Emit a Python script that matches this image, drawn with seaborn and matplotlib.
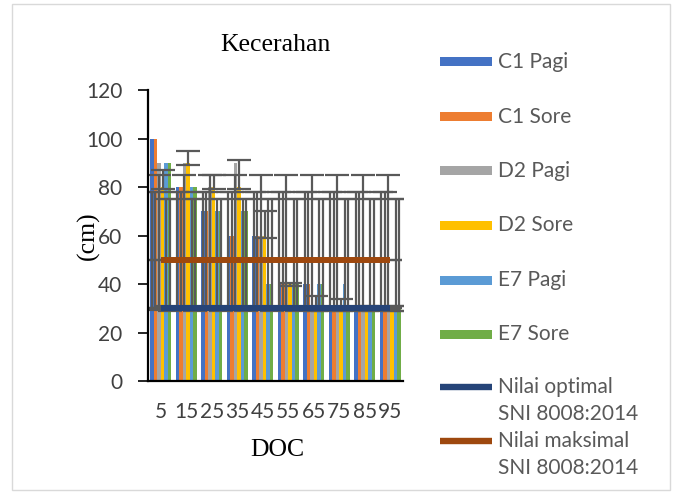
import numpy as np
import pandas as pd
import matplotlib
matplotlib.use("Agg")
import matplotlib.pyplot as plt
from matplotlib.patches import Rectangle
from matplotlib.lines import Line2D
import seaborn as sns

doc = ['5', '15', '25', '35', '45', '55', '65', '75', '85', '95']

c1_pagi = [100, 80, 70, 60, 60, 40, 40, 30, 30, 30]
c1_sore = [100, 80, 70, 60, 60, 40, 40, 30, 30, 30]
d2_pagi = [90, 90, 80, 90, 60, 40, 30, 30, 30, 30]
d2_sore = [80, 90, 80, 80, 60, 40, 30, 30, 30, 30]
e7_pagi = [90, 80, 70, 70, 40, 40, 40, 40, 30, 30]
e7_sore = [90, 80, 70, 70, 40, 40, 40, 30, 30, 30]

# D2 Sore has its own (custom) error bars
d2_sore_err_lo = [1, 1, 1, 1, 1, 1, 1, 1, 1, 1]
d2_sore_err_hi = [7, 5, 5, 11, 10, 0.3, 5, 4, 1, 1]

nilai_optimal = [30, 30, 30, 30, 30, 30, 30, 30, 30, 30]
nilai_maksimal = [50, 50, 50, 50, 50, 50, 50, 50, 50, 50]

series = ['C1 Pagi', 'C1 Sore', 'D2 Pagi', 'D2 Sore', 'E7 Pagi', 'E7 Sore']
values = [c1_pagi, c1_sore, d2_pagi, d2_sore, e7_pagi, e7_sore]
colors = ['#4472C4', '#ED7D31', '#A5A5A5', '#FFC000', '#5B9BD5', '#70AD47']
line_names = ['Nilai optimal\nSNI 8008:2014', 'Nilai maksimal\nSNI 8008:2014']
line_vals = [nilai_optimal, nilai_maksimal]
line_colors = ['#264478', '#9E480E']

rows = []
for name, vals in zip(series, values):
    for d, v in zip(doc, vals):
        rows.append({'DOC': d, 'series': name, 'cm': v})
df = pd.DataFrame(rows)

sns.set_style('white')
plt.rcParams['font.family'] = ['Lato', 'DejaVu Sans']

fig = plt.figure(figsize=(6.77, 4.94), dpi=100)
ax = fig.add_axes([148 / 677, 1 - 381 / 494, 255 / 677, 291 / 494])

sns.barplot(data=df, x='DOC', y='cm', hue='series', order=doc, hue_order=series,
            palette=colors, width=0.835, errorbar=None, ax=ax, legend=False,
            saturation=1, linewidth=0, zorder=1)

err_kw = dict(fmt='none', ecolor='#595959', elinewidth=1.6, capsize=8.5,
              capthick=1.6, zorder=2)

# Excel "standard deviation" error bars: drawn at the series mean for every point
for name, vals, cont in zip(series, values, ax.containers):
    xs = [p.get_x() + p.get_width() / 2 for p in cont]
    if name == 'D2 Sore':
        ax.errorbar(xs, vals, yerr=[d2_sore_err_lo, d2_sore_err_hi], **err_kw)
    else:
        m = np.mean(vals)
        sd = np.std(vals, ddof=1)
        ax.errorbar(xs, [m] * len(xs), yerr=sd, **err_kw)

xpos = np.arange(len(doc))
for vals, col in zip(line_vals, line_colors):
    ax.errorbar(xpos, vals, yerr=np.std(vals, ddof=1), **err_kw)
    ax.plot(xpos, vals, color=col, lw=4.3, solid_capstyle='butt', zorder=4)

ax.set_xlim(-0.5, len(doc) - 0.5)
ax.set_ylim(0, 120)
ax.set_yticks(range(0, 121, 20))
ax.set_xlabel('')
ax.set_ylabel('')
for s in ['top', 'right']:
    ax.spines[s].set_visible(False)
for s in ['left', 'bottom']:
    ax.spines[s].set_color('black')
    ax.spines[s].set_linewidth(1.6)
ax.tick_params(axis='y', direction='out', length=7, width=1.2, color='black',
               labelsize=15, labelcolor='#404040', pad=11.5, left=True)
ax.tick_params(axis='x', length=0, labelsize=15, labelcolor='#404040', pad=15)

serif = ['Liberation Serif', 'DejaVu Serif']
fig.text(275.5 / 677, 1 - 45 / 494, 'Kecerahan', ha='center', va='center',
         fontsize=18.5, family=serif, color='black')
fig.text(88 / 677, 1 - 236 / 494, '(cm)', ha='center', va='center', rotation=90,
         fontsize=18.5, family=serif, color='black')
fig.text(277 / 677, 1 - 450 / 494, 'DOC', ha='center', va='center',
         fontsize=18.5, family=serif, color='black')

# legend on the right, laid out like the Excel one
W, H = 677, 494
bar_y = [62, 117, 171, 225, 280, 334]
for name, col, y in zip(series, colors, bar_y):
    fig.add_artist(Rectangle((440 / W, 1 - (y + 4.5) / H), 52 / W, 9 / H,
                             transform=fig.transFigure, color=col, lw=0))
    fig.text(498 / W, 1 - y / H, name, ha='left', va='center', fontsize=15,
             color='#595959')
line_y = [387, 441]
for name, col, y in zip(line_names, line_colors, line_y):
    fig.add_artist(Line2D([440 / W, 492 / W], [1 - y / H, 1 - y / H],
                          transform=fig.transFigure, color=col, lw=4.6,
                          solid_capstyle='butt'))
    for k, part in enumerate(name.split('\n')):
        fig.text(498 / W, 1 - (y + 26.5 * k) / H, part, ha='left', va='center',
                 fontsize=15, color='#595959')

fig.add_artist(Rectangle((12 / W, 4 / H), 658 / W, 486 / H, transform=fig.transFigure,
                         fill=False, edgecolor='#D9D9D9', lw=1))

fig.savefig('out.png', dpi=100)
